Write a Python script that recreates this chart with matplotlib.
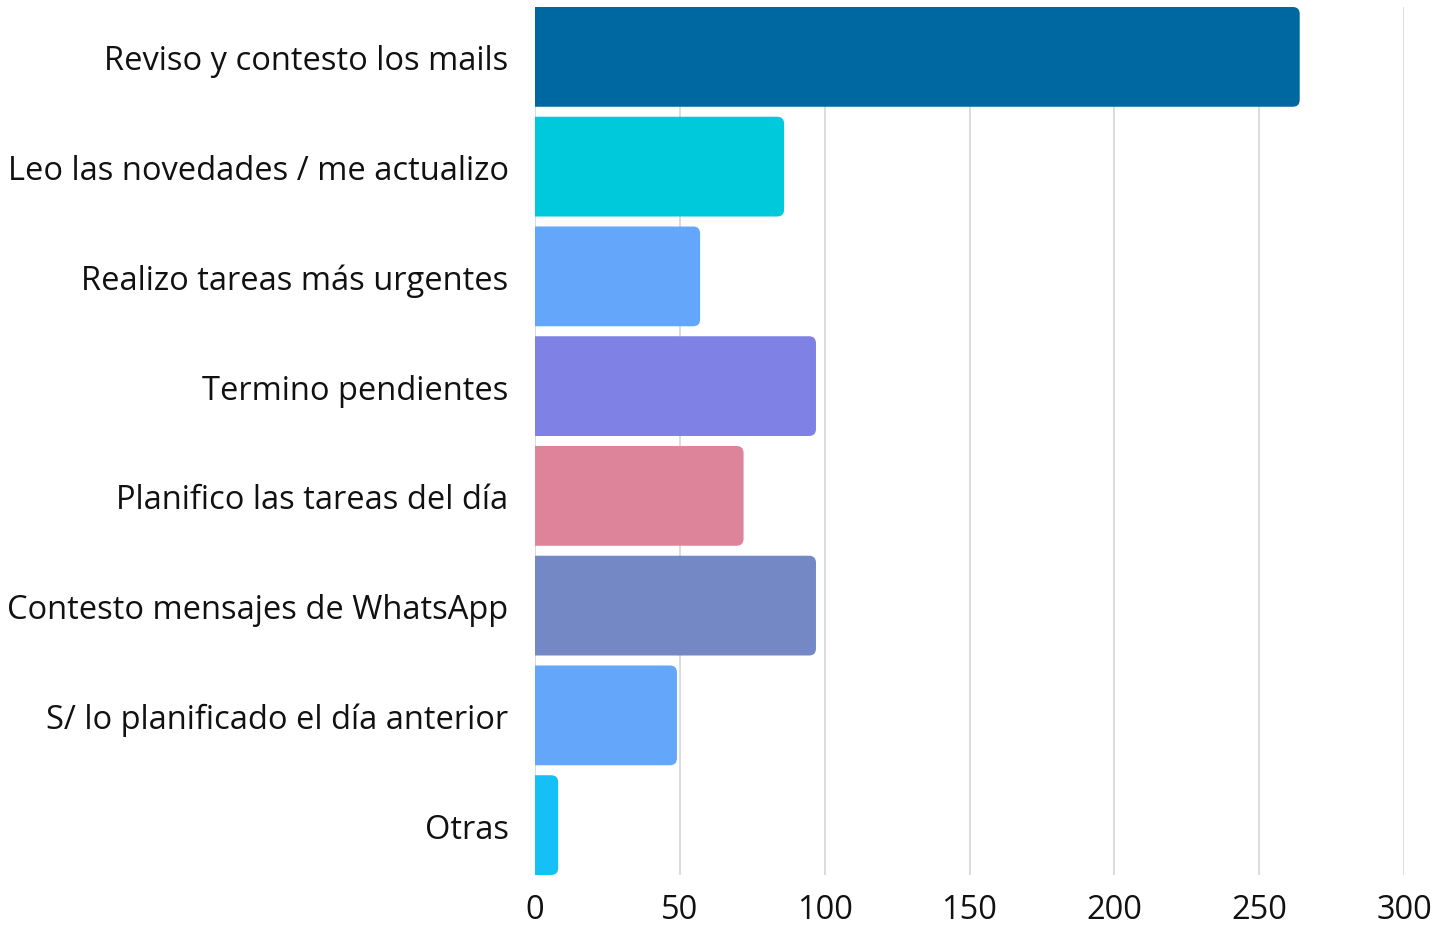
import matplotlib
matplotlib.use('agg')
import matplotlib.pyplot as plt
from matplotlib.patches import FancyBboxPatch

categories = [
    'Reviso y contesto los mails',
    'Leo las novedades / me actualizo',
    'Realizo tareas más urgentes',
    'Termino pendientes',
    'Planifico las tareas del día',
    'Contesto mensajes de WhatsApp',
    'S/ lo planificado el día anterior',
    'Otras',
]
values = [264, 86, 57, 97, 72, 97, 49, 8]
colors = ['#0068A0', '#00C9DB', '#64A6FA', '#7F82E4',
          '#DE849A', '#7388C4', '#64A6FA', '#14C0F6']
xticks = [0, 50, 100, 150, 200, 250, 300]

plt.rcParams['font.family'] = ['Open Sans', 'DejaVu Sans']

fig = plt.figure(figsize=(14.52, 9.29), dpi=100)
ax = fig.add_axes([535 / 1452, 1 - 876 / 929, (1404 - 535) / 1452, 868 / 929])

h = 100 / 110
pos = list(range(len(categories)))

# corner radius in px, converted to data units on each axis
px_x = (1404 - 535) / 300.0
px_y = 110.0
r = 7
rx = r / px_x
ry = r / px_y

for i, (v, c) in enumerate(zip(values, colors)):
    box = FancyBboxPatch((-rx * 2, i - h / 2), v + rx * 2, h,
                         boxstyle=f'round,pad=0,rounding_size={rx}',
                         mutation_aspect=ry / rx,
                         facecolor=c, edgecolor='none', zorder=3)
    ax.add_patch(box)

ax.set_xlim(0, 300)
ax.set_ylim(len(categories) - 1 + h / 2, -h / 2)
ax.set_xticks(xticks)
ax.set_yticks(pos)
ax.set_yticklabels(categories)
ax.grid(axis='x', color='#DCDCDC', linewidth=1.4, zorder=0)
ax.set_axisbelow(True)
for s in ax.spines.values():
    s.set_visible(False)
ax.tick_params(axis='both', length=0, labelsize=23.5, colors='#111111')
ax.tick_params(axis='x', labelsize=23.5)
ax.tick_params(axis='y', pad=19)
ax.tick_params(axis='x', pad=13)

plt.savefig('out.png', dpi=100)
